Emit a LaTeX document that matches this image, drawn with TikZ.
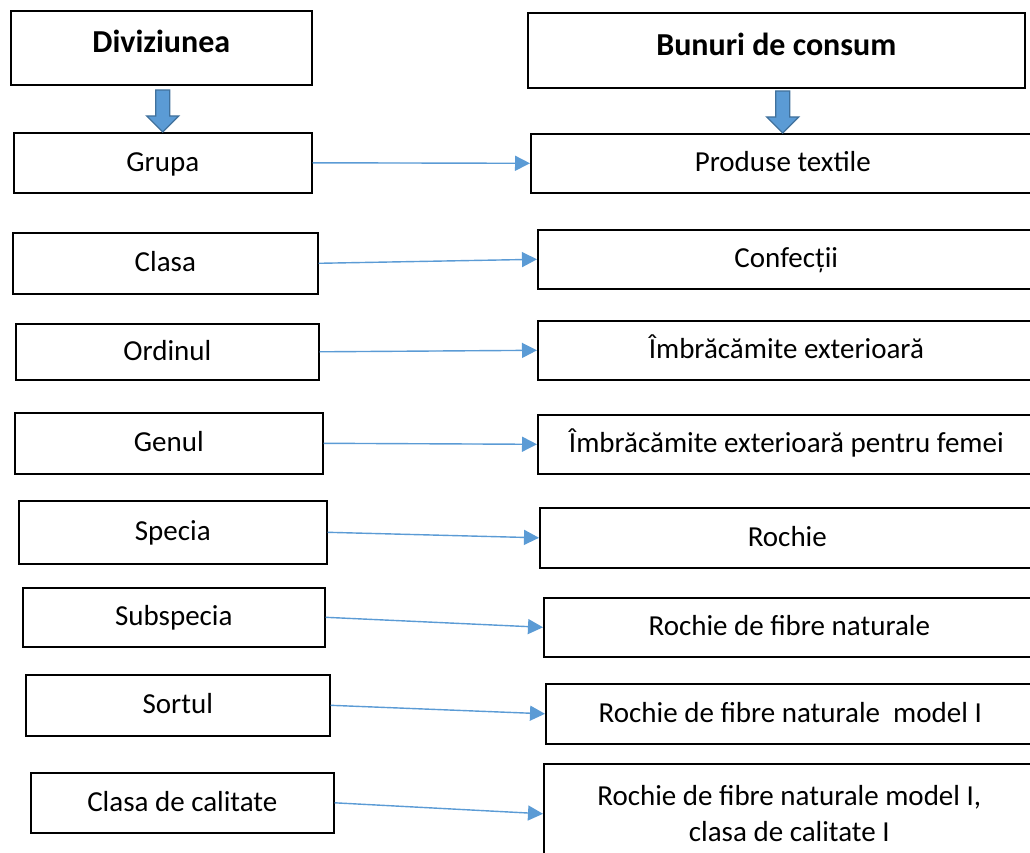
\documentclass[tikz,border=0pt]{standalone}
\usepackage{fontspec}
\setmainfont{Carlito}
\usetikzlibrary{arrows.meta}
\definecolor{linkblue}{HTML}{5B9BD5}
\definecolor{linkedge}{HTML}{41719C}

\begin{document}
\begin{tikzpicture}[x=1pt,y=-1pt,
  box/.style={draw,line width=1.6pt,anchor=north west,inner sep=0pt,align=center,
    font=\fontsize{29}{36}\selectfont},
  item/.style={box,text height=20pt,text depth=3pt},
  head/.style={box,text height=21pt,text depth=11pt,font=\fontsize{32}{38}\selectfont\bfseries},
  link/.style={-{Triangle[length=15pt,width=15pt]},draw=linkblue,fill=linkblue,line width=1.4pt},
  blk/.style={fill=linkblue,draw=linkedge,line width=1.3pt,line join=miter}]
\useasboundingbox (0,0) rectangle (1030,853);

% left column
\node[head,minimum width=301,minimum height=74] (div) at (10,10) {Diviziunea};
\node[item,minimum width=298,minimum height=60] (grp) at (13,132) {Grupa};
\node[item,minimum width=305,minimum height=61] (cls) at (12,232) {Clasa};
\node[item,minimum width=303,minimum height=56] (ord) at (15,323) {Ordinul};
\node[item,minimum width=308,minimum height=61] (gen) at (14,412) {Genul};
\node[item,minimum width=308,minimum height=63] (spc) at (18,500) {Specia};
\node[item,minimum width=302,minimum height=59] (ssp) at (22,587) {Subspecia};
\node[item,minimum width=304,minimum height=61] (srt) at (25,674) {Sortul};
\node[item,minimum width=303,minimum height=60] (cal) at (30,772) {Clasa de calitate};

% right column
\node[head,minimum width=497,minimum height=75] (bc) at (527,12) {Bunuri de consum};
\node[item,minimum width=504,minimum height=59] (pt) at (530,133) {Produse textile};
\node[item,minimum width=497,minimum height=59] (conf) at (537,229) {Confecții};
\node[item,minimum width=497,minimum height=59] (ext) at (537,320) {Îmbrăcămite exterioară};
\node[item,minimum width=497,minimum height=59] (fem) at (537,414) {Îmbrăcămite exterioară pentru femei};
\node[item,minimum width=495,minimum height=60] (roc) at (539,507) {Rochie};
\node[item,minimum width=491,minimum height=59] (nat) at (543,597) {Rochie de fibre naturale};
\node[item,minimum width=489,minimum height=60] (mod) at (545,683) {Rochie de fibre naturale\ \ model I};
\node[box,minimum width=491,minimum height=100] (mcal) at (543,763) {Rochie de fibre naturale model I,\\clasa de calitate I};

% block arrows
\draw[blk,shift={(grp.north)}] (0,0) -- (-16,-16) -- (-7,-16) -- (-7,-42) -- (7,-42)
  -- (7,-16) -- (16,-16) -- cycle;
\draw[blk,shift={(pt.north)}] (0,0) -- (-16,-16) -- (-7,-16) -- (-7,-42) -- (7,-42)
  -- (7,-16) -- (16,-16) -- cycle;

% links
\draw[link] (grp.east) -- (pt.west);
\draw[link] (cls.east) -- (conf.west);
\draw[link] (ord.east) -- (ext.west);
\draw[link] (gen.east) -- (fem.west);
\draw[link] (spc.east) -- (roc.west);
\draw[link] (ssp.east) -- (nat.west);
\draw[link] (srt.east) -- (mod.west);
\draw[link] (cal.east) -- (mcal.west);
\end{tikzpicture}
\end{document}
